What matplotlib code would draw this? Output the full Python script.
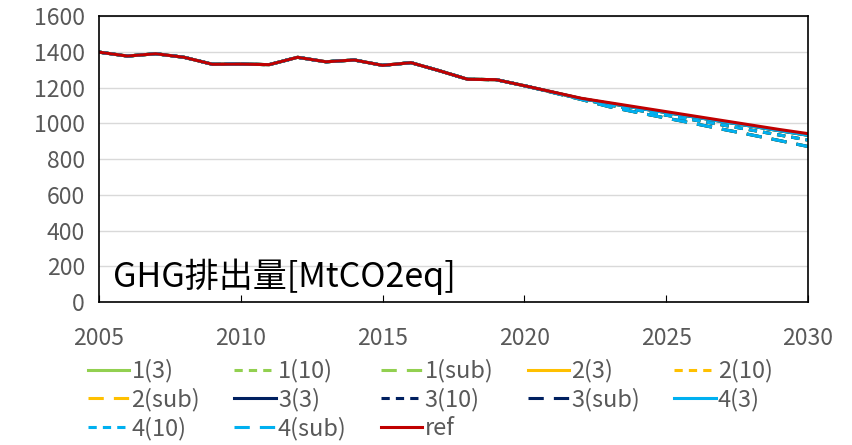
import matplotlib.pyplot as plt

plt.rcParams['font.family'] = ['Noto Sans CJK JP', 'DejaVu Sans']

years = list(range(2005, 2031))

# historical + reference path (MtCO2eq)
ref = [1398, 1376, 1389, 1369, 1330, 1331, 1328, 1369, 1344, 1354, 1324, 1339,
       1294, 1246, 1244, 1210, 1175, 1140, 1115, 1090, 1065, 1040, 1015, 990, 965, 942]

# scenario paths: (3), (10), (sub) variants
path_3 = [1398, 1376, 1389, 1369, 1330, 1331, 1328, 1369, 1344, 1354, 1324, 1339,
          1294, 1246, 1244, 1210, 1174, 1138, 1111, 1085, 1060, 1035, 1009, 984, 958, 933]
path_10 = [1398, 1376, 1389, 1369, 1330, 1331, 1328, 1369, 1344, 1354, 1324, 1339,
           1294, 1246, 1244, 1210, 1173, 1136, 1102, 1073, 1045, 1018, 990, 962, 934, 906]
path_sub = [1398, 1376, 1389, 1369, 1330, 1331, 1328, 1369, 1344, 1354, 1324, 1339,
            1294, 1246, 1244, 1210, 1172, 1133, 1092, 1060, 1029, 998, 966, 935, 903, 870]

scenarios = ["1", "2", "3", "4"]
scenario_colors = {"1": "#92D050", "2": "#FFC000", "3": "#002060", "4": "#00B0F0"}
variants = [("3", path_3, "-"), ("10", path_10, (0, (2.7, 2.0))), ("sub", path_sub, (0, (5, 3.3)))]

fig = plt.figure(figsize=(8.52, 4.45), dpi=100)
ax = fig.add_axes([0.1162, 0.3213, 0.8322, 0.6427])

lw = 2.2
handles = {}
for s in scenarios:
    for v, vals, ls in variants:
        label = f"{s}({v})"
        (h,) = ax.plot(years, vals, color=scenario_colors[s], linestyle=ls, linewidth=lw,
                       label=label)
        handles[label] = h
(h,) = ax.plot(years, ref, color="#C00000", linewidth=lw, label="ref")
handles["ref"] = h

ax.set_xlim(2005, 2030)
ax.set_ylim(0, 1600)
ax.set_xticks(range(2005, 2031, 5))
ax.set_yticks(range(0, 1601, 200))
ax.grid(axis="y", color="#D9D9D9", linewidth=1)
ax.set_axisbelow(True)
for sp in ax.spines.values():
    sp.set_color("black")
    sp.set_linewidth(1.2)
ax.tick_params(axis="x", direction="in", length=5, colors="black", labelcolor="#595959",
               labelsize=16.5, pad=18)
ax.tick_params(axis="y", length=0, labelcolor="#595959", labelsize=16.5, pad=10)

ax.text(0.02, 0.09, "GHG排出量[MtCO2eq]", transform=ax.transAxes, fontsize=24.5,
        color="black", ha="left", va="center")

# legend is filled column by column; order so it reads row by row
legend_order = ["1(3)", "2(sub)", "4(10)",
                "1(10)", "3(3)", "4(sub)",
                "1(sub)", "3(10)", "ref",
                "2(3)", "3(sub)",
                "2(10)", "4(3)"]
fig.legend([handles[k] for k in legend_order], legend_order,
           loc="upper center", bbox_to_anchor=(0.505, 0.214), ncol=5, frameon=False,
           fontsize=17, handlelength=1.75, columnspacing=1.45, handletextpad=0.1,
           labelspacing=0.22, labelcolor="#595959", borderaxespad=0)

fig.savefig("out.png", dpi=100)
